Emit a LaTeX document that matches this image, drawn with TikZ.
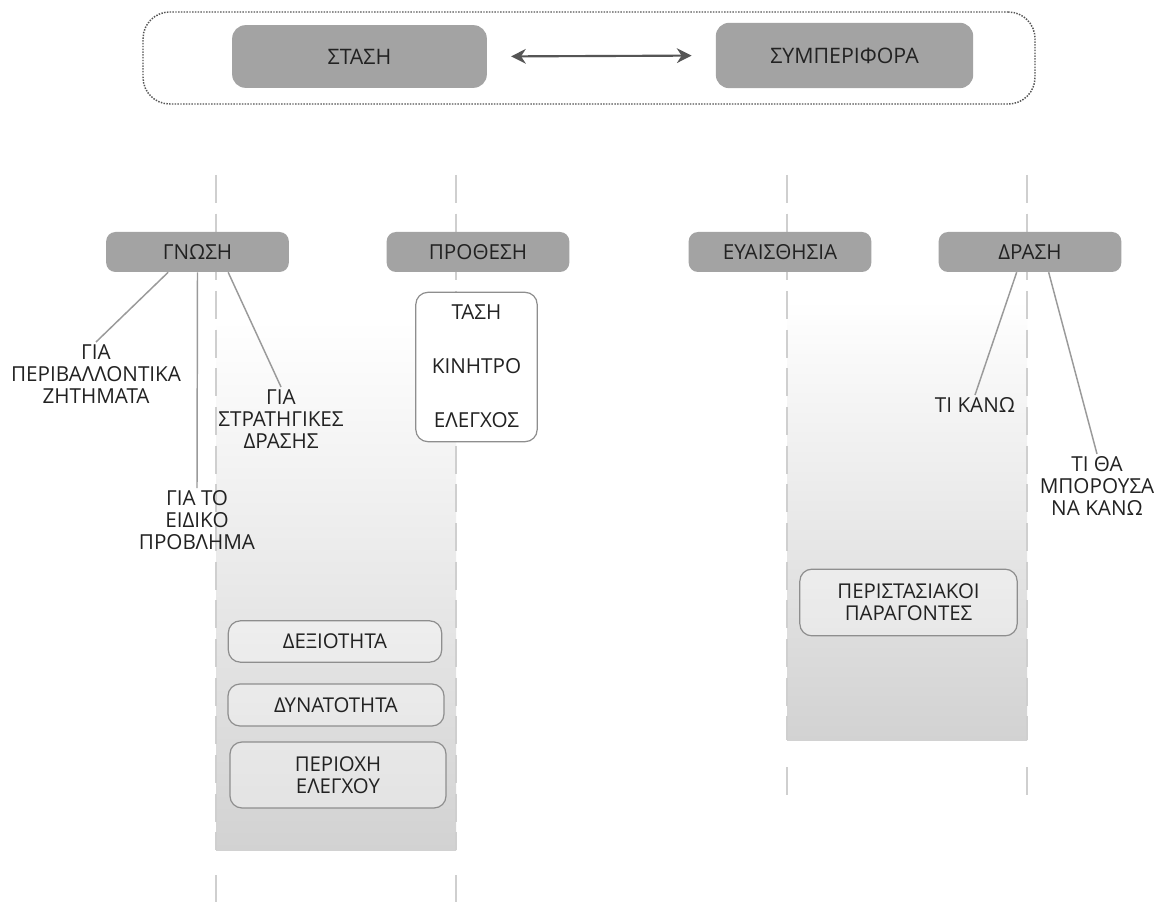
\documentclass[tikz,border=0pt]{standalone}
\usepackage{fontspec}
\setmainfont{Open Sans}
\usetikzlibrary{arrows.meta}
\definecolor{hdrfill}{HTML}{A3A3A3}
\definecolor{txt}{HTML}{222222}
\definecolor{bord}{HTML}{8E8E8E}
\definecolor{dashc}{HTML}{CFCFCF}
\definecolor{linec}{HTML}{9A9A9A}
\definecolor{arrc}{HTML}{555555}
\definecolor{shadec}{HTML}{D2D2D2}
\tikzset{
  hdr/.style={draw=none, fill=hdrfill, rounded corners=7pt, text=txt, font=\fontsize{15.5}{17}\selectfont, minimum width=137pt, minimum height=30pt, inner sep=0pt},
  bigbox/.style={hdr, rounded corners=10pt, font=\fontsize{16}{19}\selectfont},
  subbox/.style={draw=bord, line width=0.9pt, fill=white, fill opacity=0.35, text opacity=1, rounded corners=9pt, text=txt, align=center, font=\fontsize{15.3}{16.5}\selectfont, inner sep=0pt},
  lbl/.style={text=txt, align=center, font=\fontsize{15.5}{16.5}\selectfont, inner sep=2pt, anchor=north},
  conn/.style={draw=linec, line width=1.1pt},
  vdash/.style={draw=dashc, line width=1.1pt, dash pattern=on 21pt off 8pt},
}
\begin{document}
\begin{tikzpicture}[x=0.75pt,y=-0.75pt]
\useasboundingbox (0,0) rectangle (1160,902);
\fill[white] (0,0) rectangle (1160,902);
% shaded panels
\shade[top color=white, bottom color=shadec] (216,320) rectangle (456,850);
\shade[top color=white, bottom color=shadec] (787,300) rectangle (1027,740);
% dashed verticals
\foreach \x in {216,456} {
  \draw[vdash] (\x,175) -- (\x,850);
  \draw[vdash] (\x,875) -- (\x,902);
}
\foreach \x in {787,1027} {
  \draw[vdash] (\x,175) -- (\x,740);
  \draw[vdash] (\x,767) -- (\x,795);
}
% top frame
\node[draw=arrc, densely dotted, line width=1.1pt, rounded corners=20pt, minimum width=669pt, minimum height=69pt, inner sep=0pt] (frame) at (589,58) {};
\node[bigbox, minimum width=191pt, minimum height=47pt] (stasi) at (359.5,56.5) {ΣΤΑΣΗ};
\node[bigbox, minimum width=193pt, minimum height=49pt] (symp) at (844.5,55.5) {ΣΥΜΠΕΡΙΦΟΡΑ};
\draw[draw=arrc, line width=1.6pt, {Stealth[length=11pt,width=11pt]}-{Stealth[length=11pt,width=11pt]}, shorten <=18pt, shorten >=18pt] (stasi.east) -- (symp.west);
% headers
\node[hdr] (G) at (197.5,252) {ΓΝΩΣΗ};
\node[hdr] (P) at (478,252) {ΠΡΟΘΕΣΗ};
\node[hdr] (E) at (780,252) {ΕΥΑΙΣΘΗΣΙΑ};
\node[hdr] (D) at (1030,252) {ΔΡΑΣΗ};
% prothesi box
\node[subbox, fill opacity=1, minimum width=91pt, minimum height=112pt] (pb) at (476.5,367) {};
\node[lbl, anchor=center] (t1) at (476.5,312) {ΤΑΣΗ};
\node[lbl, anchor=center] (t2) at (476.5,366) {ΚΙΝΗΤΡΟ};
\node[lbl, anchor=center] (t3) at (476.5,420) {ΕΛΕΓΧΟΣ};
% gnosi labels
\node[lbl] (l1) at (96,342) {ΓΙΑ\\ΠΕΡΙΒΑΛΛΟΝΤΙΚΑ\\ΖΗΤΗΜΑΤΑ};
\node[lbl] (l2) at (281,387) {ΓΙΑ\\ΣΤΡΑΤΗΓΙΚΕΣ\\ΔΡΑΣΗΣ};
\node[lbl] (l3) at (197,488) {ΓΙΑ ΤΟ\\ΕΙΔΙΚΟ\\ΠΡΟΒΛΗΜΑ};
\draw[conn] ([xshift=-22pt]G.south) -- (l1.north);
\draw[conn] ([xshift=0pt]G.south) -- (l3.north);
\draw[conn] ([xshift=23pt]G.south) -- (l2.north);
% drasi labels
\node[lbl] (k1) at (975,395) {ΤΙ ΚΑΝΩ};
\node[lbl] (k2) at (1097,454) {ΤΙ ΘΑ\\ΜΠΟΡΟΥΣΑ\\ΝΑ ΚΑΝΩ};
\draw[conn] ([xshift=-10pt]D.south) -- (k1.north);
\draw[conn] ([xshift=14pt]D.south) -- (k2.north);
% bottom boxes
\node[subbox, minimum width=160pt, minimum height=31pt] (b1) at (335,641.5) {ΔΕΞΙΟΤΗΤΑ};
\node[subbox, minimum width=162pt, minimum height=31.5pt] (b2) at (336,705) {ΔΥΝΑΤΟΤΗΤΑ};
\node[subbox, minimum width=162pt, minimum height=49.5pt] (b3) at (338,775) {ΠΕΡΙΟΧΗ\\ΕΛΕΓΧΟΥ};
\node[subbox, minimum width=163pt, minimum height=50pt] (b4) at (908.5,602.5) {ΠΕΡΙΣΤΑΣΙΑΚΟΙ\\ΠΑΡΑΓΟΝΤΕΣ};
\end{tikzpicture}
\end{document}
